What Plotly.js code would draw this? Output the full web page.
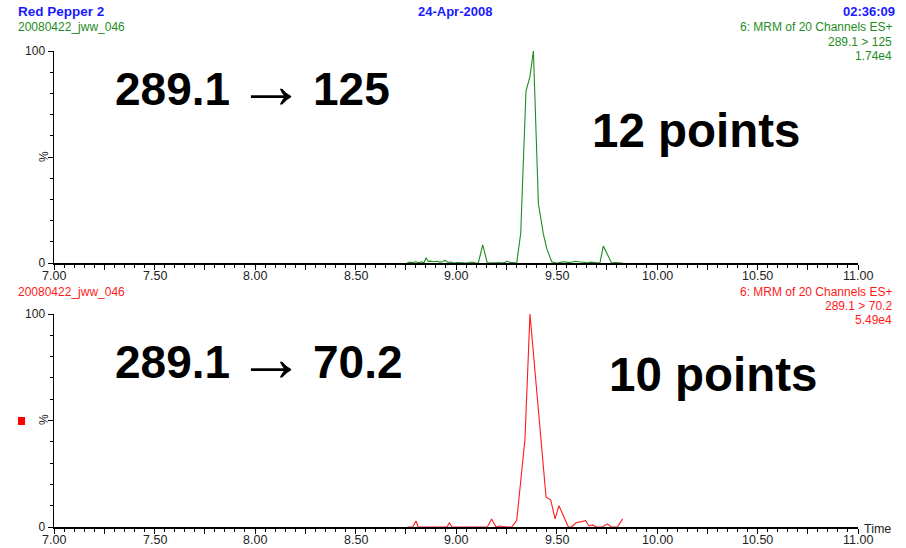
<!DOCTYPE html>
<html>
<head>
<meta charset="utf-8">
<script src="https://cdn.plot.ly/plotly-3.0.1.min.js"></script>
<style>html,body{margin:0;padding:0;background:#fff;}#chart{width:906px;height:548px;}</style>
</head>
<body>
<div id="chart"></div>
<script>
// Top trace: 289.1 > 125 (green)
const topTime = [8.756, 8.77, 8.785, 8.80, 8.815, 8.83, 8.84, 8.851, 8.862, 8.875, 8.89, 8.905, 8.92, 8.935, 8.945, 8.96, 8.975, 8.99, 9.005, 9.02, 9.035, 9.05, 9.065, 9.08, 9.095, 9.111, 9.133, 9.156, 9.17, 9.185, 9.20, 9.215, 9.23, 9.245, 9.255, 9.27, 9.285, 9.302, 9.322, 9.348, 9.368, 9.385, 9.41, 9.434, 9.451, 9.476, 9.49, 9.505, 9.52, 9.535, 9.55, 9.565, 9.58, 9.595, 9.61, 9.625, 9.64, 9.655, 9.67, 9.685, 9.70, 9.716, 9.733, 9.774, 9.79, 9.805, 9.829];
const topValue = [0, 0.4, 0.2, 0.6, 0.1, 0.5, 0, 2.5, 0.8, 0.9, 0.6, 0.8, 0.4, 0.7, 1.3, 0.3, 0.5, 0, 0.2, 0, 0.1, 0, 0.2, 0.5, 0.1, 0, 8.5, 0, 0.1, 0, 0.1, 0.2, 0, 0.3, 0.8, 0.3, 0.1, 0, 14, 81, 88, 100, 28, 14, 7, 0.6, 0.2, 0, 0.3, 0.6, 0.4, 0.2, 0.5, 0.8, 0.6, 0.4, 0.2, 0.1, 0.4, 0.2, 0, 0, 8, 0, 0.2, 0.1, 0];

// Bottom trace: 289.1 > 70.2 (red)
const botTime = [8.758, 8.785, 8.801, 8.812, 8.84, 8.87, 8.90, 8.93, 8.955, 8.967, 8.98, 9.01, 9.04, 9.07, 9.10, 9.13, 9.156, 9.177, 9.199, 9.215, 9.235, 9.255, 9.277, 9.302, 9.343, 9.368, 9.448, 9.471, 9.493, 9.512, 9.559, 9.575, 9.597, 9.625, 9.645, 9.662, 9.679, 9.698, 9.728, 9.753, 9.774, 9.803, 9.829];
const botValue = [0, 0, 2.8, 0, 0, 0, 0, 0, 0, 2, 0, 0, 0, 0, 0, 0, 0, 3.8, 0, 0.5, 0.2, 0, 0, 3, 41, 100, 14, 12.8, 3.8, 10, 0, 0, 2, 2.5, 3, 0.5, 1, 0, 0, 1.5, 0, 0, 3.8];

const xTickVals = [7, 7.25, 7.5, 7.75, 8, 8.25, 8.5, 8.75, 9, 9.25, 9.5, 9.75, 10, 10.25, 10.5, 10.75, 11];
const xLabelVals = [7, 7.5, 8, 8.5, 9, 9.5, 10, 10.5, 11];
const xLabelText = ["7.00", "7.50", "8.00", "8.50", "9.00", "9.50", "10.00", "10.50", "11.00"];
const yTickVals = [0, 50, 100];
const yTickText = ["0", "", "100"];

const BLUE = "#1a1aff", GREEN = "#1e8c1e", RED = "#ff1a1a";
const FONT = "Liberation Sans, Arial, sans-serif";

const data = [
  {x: topTime, y: topValue, xaxis: "x", yaxis: "y", type: "scatter", mode: "lines",
   line: {color: GREEN, width: 1.1}, hoverinfo: "skip"},
  {x: botTime, y: botValue, xaxis: "x2", yaxis: "y2", type: "scatter", mode: "lines",
   line: {color: RED, width: 1.1}, hoverinfo: "skip"}
];

function xAxis(anchor) {
  return {
    anchor: anchor, range: [7, 11], showgrid: false, zeroline: false,
    showline: true, linecolor: "#000", linewidth: 1.5,
    ticks: "outside", ticklen: 5, tickwidth: 1, tickcolor: "#000",
    tickmode: "array", tickvals: xTickVals, showticklabels: false,
    minor: {dtick: 0.05, ticklen: 3, tickwidth: 1, tickcolor: "#000", ticks: "outside", showgrid: false},
    fixedrange: true
  };
}
function yAxis(anchor, domain) {
  return {
    anchor: anchor, domain: domain, range: [0, 100], showgrid: false, zeroline: false,
    showline: true, linecolor: "#000", linewidth: 1.5,
    ticks: "outside", ticklen: 5, tickwidth: 1, tickcolor: "#000",
    tickmode: "array", tickvals: yTickVals, ticktext: yTickText,
    minor: {dtick: 10, ticklen: 3, tickwidth: 1, tickcolor: "#000", ticks: "outside", showgrid: false},
    tickfont: {family: FONT, size: 12, color: "#222"}, fixedrange: true
  };
}

// pixel helpers for paper coordinates
const L = 54, R = 858, T = 51, B = 527;
const px = v => (v - L) / (R - L);
const py = v => (B - v) / (B - T);

function ann(text, x, y, xanchor, size, color, bold, extra) {
  return Object.assign({
    text: bold ? "<b>" + text + "</b>" : text,
    xref: "paper", yref: "paper", x: px(x), y: py(y),
    xanchor: xanchor, yanchor: "middle", showarrow: false,
    font: {family: FONT, size: size, color: color}
  }, extra || {});
}

const annotations = [
  ann("Red Pepper 2", 16, 11, "left", 13.5, BLUE, true),
  ann("24-Apr-2008", 455, 11, "center", 13, BLUE, true),
  ann("02:36:09", 897, 11, "right", 13, BLUE, true),
  ann("20080422_jww_046", 16, 27, "left", 12, GREEN, false),
  ann("6: MRM of 20 Channels ES+", 894, 27, "right", 12, GREEN, false),
  ann("289.1 &gt; 125", 894, 42, "right", 12, GREEN, false),
  ann("1.74e4", 894, 56, "right", 12, GREEN, false),
  ann("20080422_jww_046", 16, 292, "left", 12, RED, false),
  ann("6: MRM of 20 Channels ES+", 894, 292, "right", 12, RED, false),
  ann("289.1 &gt; 70.2", 894, 306, "right", 12, RED, false),
  ann("5.49e4", 894, 320, "right", 12, RED, false),
  ann("%", 44, 157, "center", 12, "#222", false, {textangle: -90}),
  ann("%", 44, 420, "center", 12, "#222", false, {textangle: -90}),
  ann("Time", 862, 529, "left", 12.5, "#222", false),
  ann("289.1", 113, 89, "left", 46, "#000", true),
  ann("→", 235, 84, "left", 68, "#000", false),
  ann("125", 311, 89, "left", 46, "#000", true),
  ann("12 points", 590, 130, "left", 47.5, "#000", true),
  ann("289.1", 113, 362, "left", 46, "#000", true),
  ann("→", 235, 357, "left", 68, "#000", false),
  ann("70.2", 311, 362, "left", 46, "#000", true),
  ann("10 points", 607, 374, "left", 47.5, "#000", true)
];

// x tick labels, placed on the data axes
xLabelVals.forEach((v, i) => {
  annotations.push({text: xLabelText[i], xref: "x", yref: "paper", x: v, y: py(276),
    xanchor: "center", yanchor: "middle", showarrow: false,
    font: {family: FONT, size: 12.5, color: "#222"}});
  annotations.push({text: xLabelText[i], xref: "x2", yref: "paper", x: v, y: py(540),
    xanchor: "center", yanchor: "middle", showarrow: false,
    font: {family: FONT, size: 12.5, color: "#222"}});
});

const shapes = [
  {type: "rect", xref: "paper", yref: "paper",
   x0: px(18), x1: px(25), y0: py(425), y1: py(417),
   fillcolor: "#ff0000", line: {width: 0}}
];

const layout = {
  width: 906, height: 548,
  margin: {l: L, r: 906 - R, t: T, b: 548 - B, pad: 0},
  paper_bgcolor: "#fff", plot_bgcolor: "#fff",
  showlegend: false,
  xaxis: xAxis("y"),
  xaxis2: xAxis("y2"),
  yaxis: yAxis("x", [py(263), 1]),
  yaxis2: yAxis("x2", [0, py(314)]),
  annotations: annotations,
  shapes: shapes,
  font: {family: FONT}
};

Plotly.newPlot("chart", data, layout, {staticPlot: true, displayModeBar: false});
</script>
</body>
</html>
